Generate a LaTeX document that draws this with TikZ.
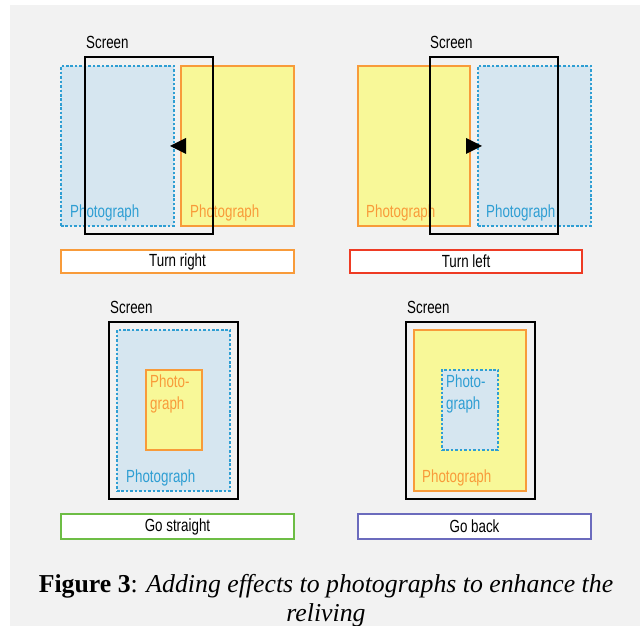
\documentclass[tikz,border=0pt]{standalone}
\usepackage{fontspec}
\newfontfamily\narrowfont{Liberation Sans}[FakeStretch=0.76]
\newfontfamily\capfont{Liberation Serif}
\usetikzlibrary{fit}
\definecolor{bggray}{HTML}{F2F2F2}
\definecolor{photoblue}{HTML}{2E9ED3}
\definecolor{bluefill}{HTML}{D6E6F0}
\definecolor{photoorange}{HTML}{F89B3A}
\definecolor{yellowfill}{HTML}{F8F898}
\definecolor{turnred}{HTML}{EE3B24}
\definecolor{gogreen}{HTML}{6DBD45}
\definecolor{backblue}{HTML}{6B6BBD}
\begin{document}
\begin{tikzpicture}[x=0.03cm, y=-0.03cm,
  bluephoto/.style={draw=photoblue, fill=bluefill, line width=1.2pt, dash pattern=on 2.2pt off 1.6pt, inner sep=0pt},
  yellowphoto/.style={draw=photoorange, fill=yellowfill, line width=1.4pt, inner sep=0pt},
  screenbox/.style={draw=black, line width=1.5pt, inner sep=0pt},
  actionbox/.style={fill=white, line width=1.5pt, inner sep=0pt},
  lbl/.style={font=\narrowfont\fontsize{15}{17}\selectfont, inner sep=0pt, anchor=base west}]
\useasboundingbox (0,0) rectangle (642,626);
\fill[white] (0,0) rectangle (642,626);
\fill[bggray] (10,5) rectangle (640,626);
% turn right
\node[bluephoto, fit={(61,66) (174,226)}] (tr-new) {};
\node[yellowphoto, fit={(181,66) (294,226)}] (tr-old) {};
\node[lbl, text=photoblue] (tr-newtxt) at (70,218) {Photograph};
\node[lbl, text=photoorange] (tr-oldtxt) at (190,218) {Photograph};
\node[screenbox, fit={(85,57) (213,234)}] (tr-screen) {};
\node[lbl] (tr-screentxt) at (86,49) {Screen};
\fill (186,138) -- (170,146) -- (186,154) -- cycle;
\node[actionbox, draw=photoorange, fit={(61,250) (294,273)}] (tr-box) {};
\node[lbl, anchor=center] (tr-txt) at (tr-box.center) {Turn right};
% turn left
\node[yellowphoto, fit={(358,66) (470,226)}] (tl-old) {};
\node[bluephoto, fit={(478,66) (591,226)}] (tl-new) {};
\node[lbl, text=photoorange] (tl-oldtxt) at (366,218) {Photograph};
\node[lbl, text=photoblue] (tl-newtxt) at (486,218) {Photograph};
\node[screenbox, fit={(430,57) (558,234)}] (tl-screen) {};
\node[lbl] (tl-screentxt) at (430,49) {Screen};
\fill (466,138) -- (482,146) -- (466,154) -- cycle;
\node[actionbox, draw=turnred, fit={(350,250) (582,273)}] (tl-box) {};
\node[lbl, anchor=center] (tl-txt) at (tl-box.center) {Turn left};
% go straight
\node[screenbox, fit={(109,322) (238,499)}] (gs-screen) {};
\node[bluephoto, fit={(117,330) (230,491)}] (gs-new) {};
\node[yellowphoto, fit={(146,370) (202,450)}] (gs-old) {};
\node[lbl, text=photoorange] (gs-oldtxt1) at (150,387) {Photo-};
\node[lbl, text=photoorange] (gs-oldtxt2) at (150,409) {graph};
\node[lbl, text=photoblue] (gs-newtxt) at (126,482) {Photograph};
\node[lbl] (gs-screentxt) at (110,314) {Screen};
\node[actionbox, draw=gogreen, fit={(61,514) (294,539)}] (gs-box) {};
\node[lbl, anchor=center] (gs-txt) at (gs-box.center) {Go straight};
% go back
\node[screenbox, fit={(406,322) (535,499)}] (gb-screen) {};
\node[yellowphoto, fit={(414,330) (526,491)}] (gb-new) {};
\node[bluephoto, fit={(442,370) (498,450)}] (gb-old) {};
\node[lbl, text=photoblue] (gb-oldtxt1) at (446,387) {Photo-};
\node[lbl, text=photoblue] (gb-oldtxt2) at (446,409) {graph};
\node[lbl, text=photoorange] (gb-newtxt) at (422,482) {Photograph};
\node[lbl] (gb-screentxt) at (407,314) {Screen};
\node[actionbox, draw=backblue, fit={(358,514) (591,539)}] (gb-box) {};
\node[lbl, anchor=center] (gb-txt) at (gb-box.center) {Go back};
% caption
\node[font=\capfont\fontsize{22}{24}\selectfont, align=center, anchor=base, inner sep=0pt] (figcap) at (326,621)
  {\textbf{Figure 3}: \textit{Adding effects to photographs to enhance the}\\\textit{reliving}};
\end{tikzpicture}
\end{document}
